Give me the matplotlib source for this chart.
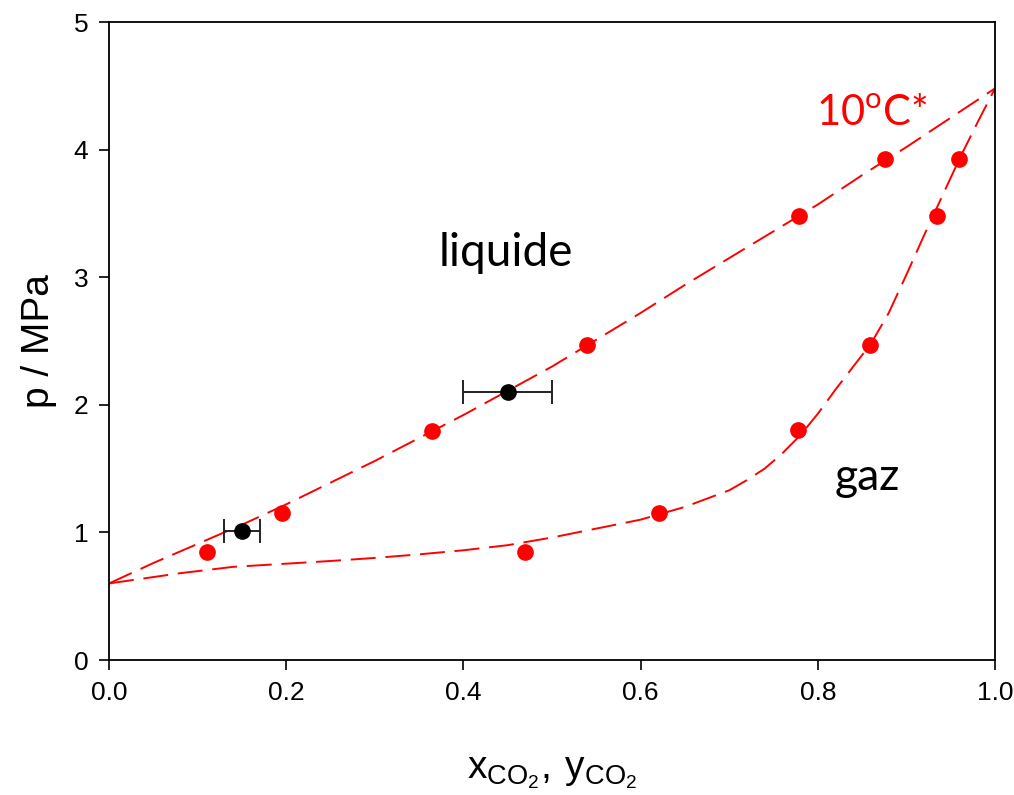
import matplotlib
matplotlib.use("Agg")
import matplotlib.pyplot as plt

# CO2 mole fraction vs pressure at 10 degC
liq_x = [0.111, 0.195, 0.365, 0.539, 0.779, 0.876]
liq_p = [0.844, 1.156, 1.797, 2.47, 3.48, 3.924]

gas_y = [0.469, 0.621, 0.778, 0.859, 0.934, 0.959]
gas_p = [0.844, 1.156, 1.80, 2.47, 3.48, 3.924]

# own measurements with uncertainty on composition
own_x = [0.15, 0.45]
own_p = [1.01, 2.10]
own_err = [0.02, 0.05]

# model curves (bubble and dew)
bub_x = [0, 0.05, 0.1, 0.15, 0.2, 0.25, 0.3, 0.35, 0.4, 0.45, 0.5,
         0.55, 0.6, 0.65, 0.7, 0.75, 0.8, 0.85, 0.9, 0.95, 1.0]
bub_p = [0.60, 0.76, 0.91, 1.06, 1.22, 1.39, 1.56, 1.74, 1.92, 2.11, 2.30,
         2.51, 2.72, 2.94, 3.15, 3.36, 3.57, 3.80, 4.02, 4.25, 4.48]

dew_x = [0, 0.04, 0.08, 0.14, 0.2, 0.25, 0.3, 0.35, 0.4, 0.45, 0.5, 0.55,
         0.6, 0.65, 0.7, 0.72, 0.74, 0.76, 0.78, 0.80, 0.82, 0.84, 0.86,
         0.88, 0.90, 0.92, 0.94, 0.96, 0.98, 1.0]
dew_p = [0.60, 0.64, 0.68, 0.73, 0.755, 0.776, 0.80, 0.828, 0.86, 0.90, 0.96,
         1.03, 1.10, 1.20, 1.33, 1.41, 1.50, 1.62, 1.76, 1.93, 2.12, 2.30,
         2.48, 2.72, 3.02, 3.33, 3.63, 3.93, 4.21, 4.48]

plt.rcParams["font.family"] = "Liberation Sans"
plt.rcParams["lines.scale_dashes"] = False

fig = plt.figure(figsize=(10.14, 7.95), dpi=100)
ax = fig.add_axes([0.1075, 0.1698, 0.8738, 0.8025])

ax.plot(bub_x, bub_p, color="red", lw=1.4, dashes=(18, 7))
ax.plot(dew_x, dew_p, color="red", lw=1.4, dashes=(18, 7))

ax.plot(liq_x, liq_p, "o", color="red", ms=11, mec="red")
ax.plot(gas_y, gas_p, "o", color="red", ms=11, mec="red")

ax.errorbar(own_x, own_p, xerr=own_err, fmt="o", color="black", ms=11,
            ecolor="#222222", elinewidth=1.4, capsize=8.5, capthick=1.4)

ax.text(0.448, 3.09, "liquide", fontsize=33, family="Lato", ha="center")
ax.text(0.856, 1.33, "gaz", fontsize=32, family="Lato", ha="center")
ax.text(0.861, 4.19, r"10$^{\mathregular{o}}$C*", fontsize=30, family="Lato",
        color="red", ha="center")

ax.set_xlim(0, 1)
ax.set_ylim(0, 5)
ax.set_xticks([0, 0.2, 0.4, 0.6, 0.8, 1.0])
ax.set_xticklabels(["0.0", "0.2", "0.4", "0.6", "0.8", "1.0"])
ax.set_yticks([0, 1, 2, 3, 4, 5])
ax.tick_params(direction="out", length=7, width=1.2, labelsize=19, pad=8)
ax.tick_params(top=False, right=False)
for s in ax.spines.values():
    s.set_linewidth(1.3)

ax.set_xlabel(r"$\mathregular{x_{CO_2}, \/ y_{CO_2}}$", fontsize=28, labelpad=36)
ax.set_ylabel("p / MPa", fontsize=28, labelpad=12)

fig.savefig("out.png", dpi=100)
